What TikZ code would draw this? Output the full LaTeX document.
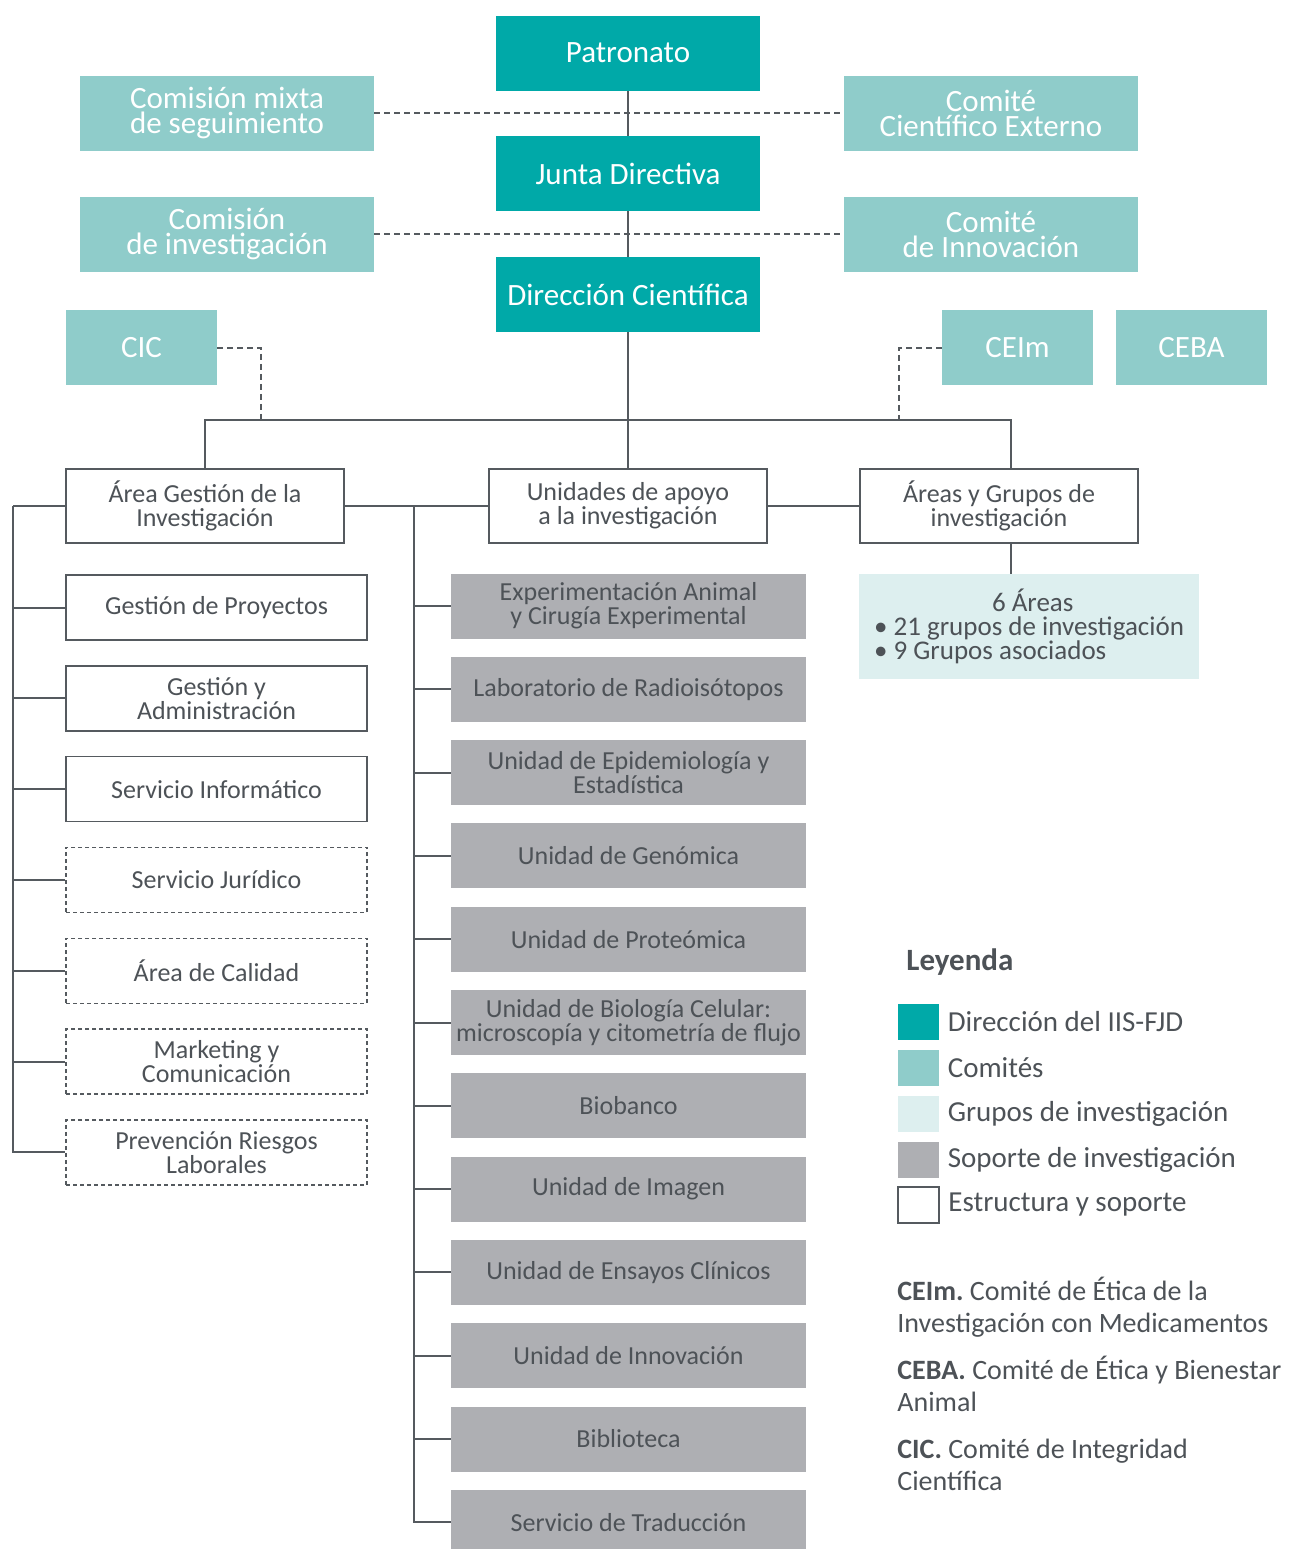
\documentclass[tikz,border=0pt]{standalone}
\usepackage{fontspec}
\setmainfont{Carlito}
\usetikzlibrary{positioning}

\definecolor{direccion}{HTML}{00A9A8}
\definecolor{comite}{HTML}{8FCCCA}
\definecolor{grupos}{HTML}{DDEFEF}
\definecolor{soporte}{HTML}{AEAFB3}
\definecolor{texto}{HTML}{4D5257}
\definecolor{linea}{HTML}{555A5F}

\tikzset{
  base/.style={inner sep=2pt, align=center, text=texto, font=\fontsize{13}{12}\selectfont},
  dir/.style={base, fill=direccion, text=white, minimum width=132pt, minimum height=37.5pt, font=\fontsize{15.5}{12}\selectfont},
  com/.style={base, fill=comite, text=white, minimum width=147pt, minimum height=37.5pt, font=\fontsize{15.5}{12.5}\selectfont},
  comsmall/.style={com, minimum width=75.5pt},
  estr/.style={base, draw=linea, line width=0.7pt, minimum width=139pt, minimum height=37pt},
  estrleft/.style={estr, minimum width=150.5pt, minimum height=32.5pt},
  estrdash/.style={estrleft, dash pattern=on 2pt off 1.5pt},
  sop/.style={base, fill=soporte, minimum width=177.5pt, minimum height=32.5pt},
  legbox/.style={minimum width=20.5pt, minimum height=18pt, inner sep=0pt},
  legtext/.style={inner sep=1pt, text=texto, font=\fontsize{14.5}{16}\selectfont},
  deftext/.style={legtext, anchor=west, align=left, font=\fontsize{14}{16}\selectfont},
  link/.style={draw=linea, line width=1pt},
  dashlink/.style={link, dash pattern=on 3pt off 2pt},
}

\begin{document}
\begin{tikzpicture}[x=0.5pt, y=-0.5pt]
  \useasboundingbox (0,0) rectangle (1293,1549);

  % direccion
  \node[dir] (patronato) at (628,53) {Patronato};
  \node[dir] (junta) at (628,173.5) {Junta Directiva};
  \node[dir] (direccion) at (628,294.5) {Dirección Científica};

  % comites
  \node[com] (mixta) at (227,113) {Comisión mixta\\de seguimiento};
  \node[com] (externo) at (991,113) {Comité\\Científico Externo};
  \node[com] (investig) at (227,234) {Comisión\\de investigación};
  \node[com] (innov) at (991,234) {Comité\\de Innovación};
  \node[comsmall] (cic) at (141.5,347.5) {CIC};
  \node[comsmall] (ceim) at (1017.5,347.5) {CEIm};
  \node[comsmall] (ceba) at (1191.5,347.5) {CEBA};

  % estructura
  \node[estr] (gestion) at (205,506) {Área Gestión de la\\Investigación};
  \node[estr] (unidades) at (628,506) {Unidades de apoyo\\a la investigación};
  \node[estr] (areas) at (999,506) {Áreas y Grupos de\\investigación};

  \node[base, fill=grupos, align=left, minimum width=170pt, minimum height=52.5pt, font=\fontsize{13.5}{12}\selectfont] (grupos) at (1029,626.5)
    {\hspace*{59pt}6 Áreas\\• 21 grupos de investigación\\• 9 Grupos asociados};

  % area gestion
  \node[estrleft] (proyectos) at (216.5,607.5) {Gestión de Proyectos};
  \node[estrleft] (admin) at (216.5,698.3) {Gestión y\\Administración};
  \node[estrleft] (informatico) at (216.5,789.1) {Servicio Informático};
  \node[estrdash] (juridico) at (216.5,879.9) {Servicio Jurídico};
  \node[estrdash] (calidad) at (216.5,970.7) {Área de Calidad};
  \node[estrdash] (marketing) at (216.5,1061.5) {Marketing y\\Comunicación};
  \node[estrdash] (riesgos) at (216.5,1152.3) {Prevención Riesgos\\Laborales};

  % unidades de apoyo
  \foreach \name/\txt [count=\i from 0] in {
      exper/{Experimentación Animal\\y Cirugía Experimental},
      radio/Laboratorio de Radioisótopos,
      epidem/{Unidad de Epidemiología y\\Estadística},
      genomica/Unidad de Genómica,
      proteomica/Unidad de Proteómica,
      biologia/{Unidad de Biología Celular:\\microscopía y citometría de flujo},
      biobanco/Biobanco,
      imagen/Unidad de Imagen,
      ensayos/Unidad de Ensayos Clínicos,
      innovacion/Unidad de Innovación,
      biblioteca/Biblioteca,
      traduccion/Servicio de Traducción}
    \node[sop] (\name) at (628.5,606+83.3*\i) {\txt};

  % lineas principales
  \draw[link] (patronato) -- (junta);
  \draw[link] (junta) -- (direccion);
  \draw[link] (direccion) -- (unidades);
  \draw[dashlink] (mixta) -- (externo);
  \draw[dashlink] (investig) -- (innov);

  \coordinate (barR) at (1011,420);
  \coordinate (cicj) at (261,420);
  \coordinate (ceimj) at (899,420);
  \draw[link] (gestion.north) |- (barR) -- (barR |- areas.north);
  \draw[link] (areas.south -| barR) -- (grupos.north -| barR);
  \draw[dashlink] (cic.east) -| (cicj);
  \draw[dashlink] (ceim.west) -| (ceimj);

  \draw[link] (gestion) -- (unidades);
  \draw[link] (unidades) -- (areas);

  % ramas
  \coordinate (lx) at (13,0);
  \coordinate (mx) at (414,0);
  \coordinate (ltop) at (gestion.west -| lx);
  \coordinate (mtop) at (gestion.east -| mx);
  \draw[link] (gestion.west) -- (ltop);
  \foreach \n in {proyectos,admin,informatico,juridico,calidad,marketing,riesgos}
    \draw[link] (ltop) |- (\n.west);
  \foreach \n in {exper,radio,epidem,genomica,proteomica,biologia,biobanco,imagen,ensayos,innovacion,biblioteca,traduccion}
    \draw[link] (mtop) |- (\n.west);

  % leyenda
  \node[anchor=west, inner sep=1pt, text=texto, font=\fontsize{15.5}{16}\bfseries] (leyenda) at (904,962) {Leyenda};
  \node[legbox, fill=direccion] (l1) at (918.5,1022) {};
  \node[legbox, fill=comite] (l2) at (918.5,1068) {};
  \node[legbox, fill=grupos] (l3) at (918.5,1114) {};
  \node[legbox, fill=soporte] (l4) at (918.5,1160) {};
  \node[legbox, draw=linea, line width=1pt] (l5) at (918.5,1205) {};
  \node[legtext, right=3pt of l1] {Dirección del IIS-FJD};
  \node[legtext, right=3pt of l2] {Comités};
  \node[legtext, right=3pt of l3] {Grupos de investigación};
  \node[legtext, right=3pt of l4] {Soporte de investigación};
  \node[legtext, right=3pt of l5] {Estructura y soporte};

  \node[deftext] (defceim) at (895,1307) {\textbf{CEIm.}\ Comité de Ética de la\\Investigación con Medicamentos};
  \node[deftext] (defceba) at (895,1384) {\textbf{CEBA.}\ Comité de Ética y Bienestar\\Animal};
  \node[deftext] (defcic) at (895,1465) {\textbf{CIC.}\ Comité de Integridad\\Científica};
\end{tikzpicture}
\end{document}
